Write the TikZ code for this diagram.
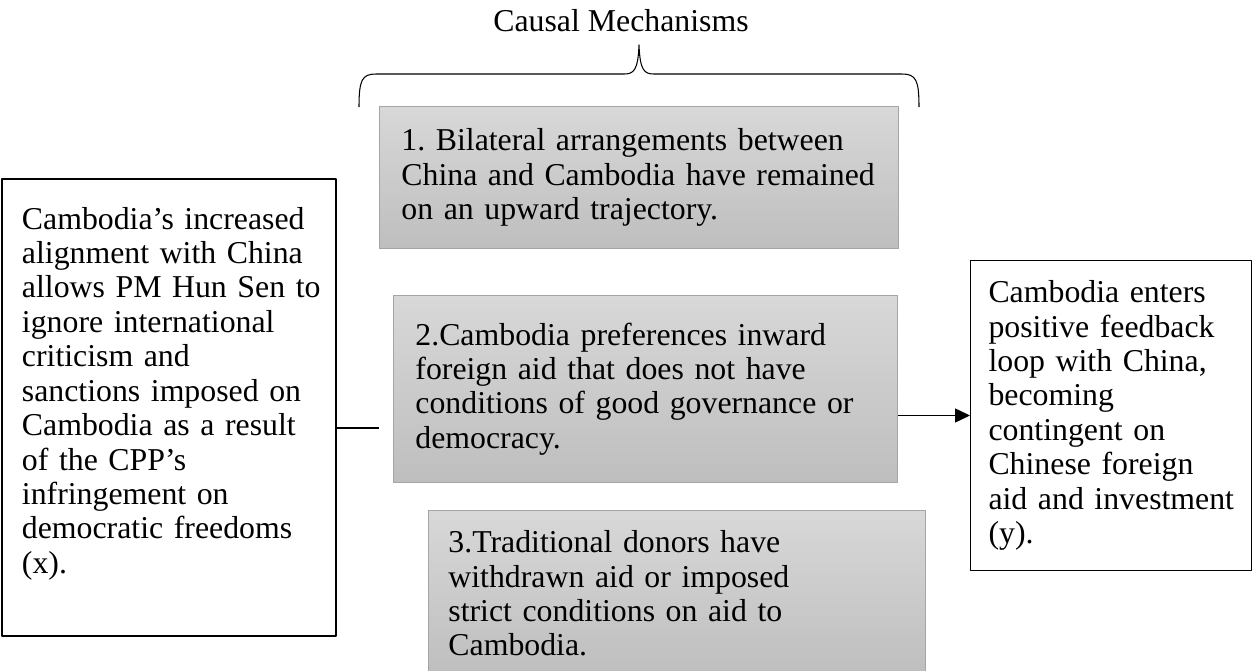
\documentclass[tikz,border=0pt]{standalone}
\usepackage{fontspec}
\setmainfont{Liberation Serif}
\usetikzlibrary{arrows.meta}
\definecolor{ink}{HTML}{000000}
\definecolor{shadetop}{HTML}{D8D8D8}
\definecolor{shadebot}{HTML}{BEBEBE}
\definecolor{edge}{HTML}{A5A5A5}

\begin{document}
\begin{tikzpicture}[x=0.02cm,y=-0.02cm,text=ink,line join=round,
    font=\fontsize{18.1pt}{19.6pt}\selectfont\frenchspacing,
    >={Triangle[length=8.5pt,width=8pt]},
    mech/.style={draw=edge,line width=0.5pt,top color=shadetop,bottom color=shadebot,
      anchor=north west,align=left,inner xsep=0.44cm,inner ysep=0pt},
    plain/.style={draw=ink,fill=white,anchor=north west,align=left,
      inner xsep=0.4cm,inner ysep=0pt}]
  \useasboundingbox (0,0) rectangle (1252,670);

  % heading and brace
  \node[anchor=base] (title) at (621,31) {Causal Mechanisms};
  \draw[ink,line width=0.6pt]
    (359,107) .. controls (359,80) and (362,74) .. (376,74) -- (624,74)
    .. controls (634,74) and (638,70) .. (639,45)
    .. controls (640,70) and (644,74) .. (654,74) -- (902,74)
    .. controls (916,74) and (919,80) .. (919,107);

  % the three mechanisms
  \node[mech,text width=9.5cm,minimum width=10.38cm,minimum height=2.84cm]
    (mech1) at (379,106)
    {1. Bilateral arrangements between\\
     \mbox{China and Cambodia have remained}\\
     on an upward trajectory.};
  \node[mech,text width=9.2cm,minimum width=10.08cm,minimum height=3.74cm]
    (mech2) at (393,295)
    {2.Cambodia preferences inward\\
     foreign aid that does not have\\
     \mbox{conditions of good governance or}\\
     democracy.};
  \node[mech,inner xsep=0.4cm,text width=9.14cm,minimum width=9.94cm,minimum height=3.32cm]
    (mech3) at (428,510)
    {3.Traditional donors have\\
     withdrawn aid or imposed\\
     strict conditions on aid to\\
     Cambodia.};

  % cause (x) and outcome (y)
  \node[plain,line width=1.1pt,text width=5.88cm,minimum width=6.68cm,minimum height=9.14cm]
    (cause) at (1,178)
    {\mbox{Cambodia’s increased}\\
     \mbox{alignment with China}\\
     \mbox{allows PM Hun Sen to}\\
     ignore international\\
     criticism and\\
     \mbox{sanctions imposed on}\\
     \mbox{Cambodia as a result}\\
     of the CPP’s\\
     infringement on\\
     \mbox{democratic freedoms}\\
     (x).\\ \mbox{}};
  \node[plain,line width=0.6pt,inner xsep=0.36cm,text width=4.9cm,
        minimum width=5.62cm,minimum height=6.2cm]
    (effect) at (970,260)
    {Cambodia enters\\
     \mbox{positive feedback}\\
     loop with China,\\
     becoming\\
     contingent on\\
     Chinese foreign\\
     \mbox{aid and investment}\\
     (y).};

  \coordinate (gap) at (379,428);
  \draw[ink,line width=0.6pt] (cause.east |- gap) -- (gap);
  \draw[ink,line width=0.6pt,->] (mech2.east |- effect.west) -- (effect.west);
\end{tikzpicture}
\end{document}
